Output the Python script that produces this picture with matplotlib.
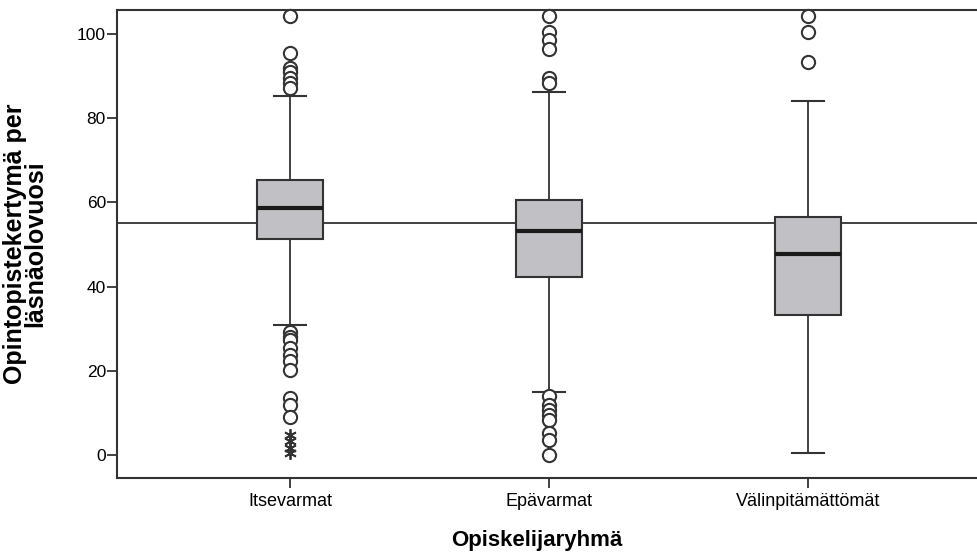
import matplotlib
matplotlib.use("Agg")
import matplotlib.pyplot as plt
from matplotlib import font_manager

categories = ["Itsevarmat", "Epävarmat", "Välinpitämättömät"]
q1 = [51.2, 42.2, 33.3]
medians = [58.7, 53.3, 47.7]
q3 = [65.2, 60.5, 56.6]
whislo = [30.9, 15.0, 0.4]
whishi = [85.3, 86.3, 84.1]
outliers = [
    [104.3, 95.4, 91.9, 90.9, 89.5, 88.3, 87.2,
     29.3, 28.0, 27.3, 25.3, 23.8, 22.2, 20.2, 13.5, 11.9, 9.1],
    [104.3, 100.4, 98.6, 96.4, 89.6, 88.4,
     13.9, 11.9, 10.7, 9.5, 8.3, 5.1, 3.6, 0.0],
    [104.3, 100.4, 93.3],
]
extremes = [[4.75, 3.2, 1.6, 0.4], [], []]
reference_value = 55
yticks = [0, 20, 40, 60, 80, 100]

names = [f.name for f in font_manager.fontManager.ttflist]
fam = "Liberation Sans Narrow" if "Liberation Sans Narrow" in names else "Liberation Sans"
plt.rcParams["font.family"] = [fam, "DejaVu Sans"]

dark = "#333333"
fig = plt.figure(figsize=(9.78, 5.59), dpi=100)
ax = fig.add_axes([117/978, 81/559, 1 - 117/978, (478-10)/559])

positions = [1, 2, 3]
stats = []
for i, name in enumerate(categories):
    stats.append(dict(label=name, q1=q1[i], med=medians[i], q3=q3[i],
                      whislo=whislo[i], whishi=whishi[i], fliers=outliers[i]))

ax.bxp(stats, positions=positions, widths=0.253, patch_artist=True,
       boxprops=dict(facecolor="#c1c1c5", edgecolor=dark, linewidth=1.5),
       medianprops=dict(color="#1a1a1a", linewidth=3),
       whiskerprops=dict(color=dark, linewidth=1.3),
       capprops=dict(color=dark, linewidth=1.5),
       capwidths=0.125,
       flierprops=dict(marker="o", markersize=9.5, markerfacecolor="white",
                       markeredgecolor=dark, markeredgewidth=1.5, linestyle="none"),
       manage_ticks=False, zorder=3)

for i, ext in enumerate(extremes):
    if ext:
        ax.plot([positions[i]] * len(ext), ext, linestyle="none",
                marker=(6, 2, 0), markersize=9, markeredgecolor=dark,
                markeredgewidth=1.3, zorder=4, clip_on=False)

ax.axhline(reference_value, color=dark, linewidth=1.3, zorder=2)

ax.set_xlim(0.332, 3.656)
ax.set_ylim(-5.5, 105.7)
ax.set_xticks(positions)
ax.set_xticklabels(categories, fontsize=13)
ax.set_yticks(yticks)
ax.set_yticklabels([str(v) for v in yticks], fontsize=12.5)
ax.tick_params(axis="both", length=7, width=1.3, color=dark)
ax.tick_params(axis="y", pad=1)
ax.tick_params(axis="x", pad=4)

for s in ["left", "bottom", "top"]:
    ax.spines[s].set_color(dark)
    ax.spines[s].set_linewidth(1.5)
ax.spines["right"].set_visible(False)

for art in ax.lines:
    art.set_clip_on(False)

ax.set_xlabel("Opiskelijaryhmä", fontsize=16, fontweight="bold")
ax.xaxis.set_label_coords((537 - 117) / 861, -(530 - 478) / 468)
ax.set_ylabel("Opintopistekertymä per\nläsnäolovuosi", fontsize=18,
              fontweight="bold", linespacing=0.8)
ax.yaxis.set_label_coords(-(117 - 47) / 861, 0.5)

fig.savefig("out.png", dpi=100)
